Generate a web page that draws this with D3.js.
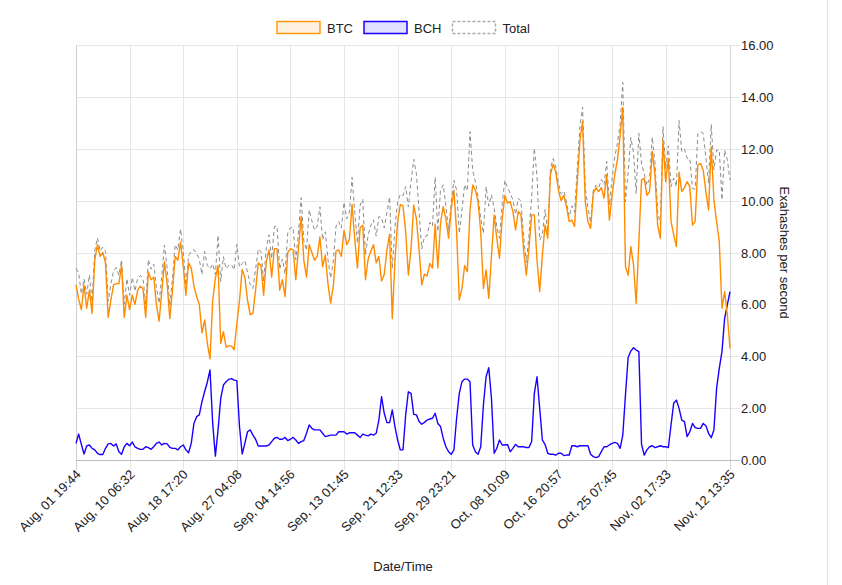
<!DOCTYPE html>
<html><head><meta charset="utf-8">
<script src="https://cdn.jsdelivr.net/npm/d3@7"></script>
<style>body{margin:0;background:#fff}svg{display:block;font-family:"Liberation Sans",Arial,Helvetica,sans-serif}</style>
</head><body><svg id="c" width="842" height="585"></svg>
<script>
const btc = [
6.75,6.2,5.8,6.75,5.85,6.55,5.65,7.7,8.3,7.85,
8.0,7.6,5.5,6.15,6.75,6.8,6.8,7.5,5.5,6.35,
5.8,6.35,6.0,6.55,6.7,6.6,5.5,7.25,6.95,7.05,
6.0,5.35,6.5,7.65,6.8,5.45,6.55,7.85,7.7,8.4,
7.5,6.35,7.6,7.4,6.7,6.3,6.0,4.9,5.4,4.5,
3.9,6.15,7.0,7.5,4.5,4.95,4.35,4.4,4.4,4.25,
5.25,6.15,7.35,7.05,6.15,5.6,5.65,6.55,7.6,7.5,
6.35,7.65,8.1,7.05,8.15,8.15,6.55,6.95,6.3,8.0,
8.15,8.1,6.95,8.15,9.4,7.7,7.05,8.3,8.0,7.7,
7.85,8.6,7.45,7.9,6.8,6.05,6.7,8.05,8.1,7.85,
8.85,8.3,8.5,9.85,8.5,7.4,8.95,9.05,6.95,7.75,
8.05,8.3,7.6,7.85,6.9,7.15,8.1,8.7,5.45,7.7,
9.2,9.85,9.8,8.8,7.13,8.16,9.83,9.3,8.1,6.75,
7.17,7.1,7.58,7.4,9.1,7.4,9.13,9.77,9.3,8.55,
9.7,10.4,8.8,6.17,6.62,7.5,7.26,9.64,10.6,10.4,
9.96,8.8,6.62,7.33,6.23,7.84,9.45,8.55,7.78,9.3,
10.2,9.9,9.96,9.58,8.87,9.58,9.47,8.1,7.13,8.16,
9.45,9.45,7.71,6.49,7.9,9.06,8.55,11.0,11.4,11.1,
10.4,10.0,10.2,9.77,9.19,9.25,9.0,10.7,12.3,13.05,
9.96,9.19,8.93,10.28,10.5,10.35,10.5,10.1,11.0,9.25,
10.2,11.0,11.57,12.5,13.6,7.45,7.13,8.23,7.52,6.04,
8.42,10.8,10.86,10.2,10.35,11.9,11.0,9.06,8.55,12.34,
10.73,11.63,9.19,8.68,8.23,11.1,10.35,10.5,10.73,10.54,
9.06,9.19,11.37,11.44,11.18,10.35,9.64,12.08,10.03,9.19,
8.42,5.85,6.49,5.6,4.3
];
const bch = [
0.64,1.0,0.6,0.23,0.54,0.58,0.45,0.39,0.26,0.21,
0.21,0.45,0.62,0.64,0.54,0.62,0.32,0.22,0.51,0.64,
0.55,0.69,0.51,0.45,0.41,0.41,0.51,0.48,0.41,0.51,
0.64,0.69,0.58,0.64,0.62,0.49,0.45,0.45,0.39,0.51,
0.58,0.39,0.28,0.64,1.41,1.67,1.74,2.25,2.64,3.0,
3.47,1.41,0.15,1.16,2.38,2.89,3.02,3.11,3.14,3.08,
3.06,1.29,0.23,0.64,1.09,1.16,0.96,0.8,0.54,0.54,
0.54,0.54,0.58,0.71,0.84,0.87,0.8,0.8,0.87,0.75,
0.8,0.87,0.77,0.64,0.71,0.75,1.03,1.35,1.22,1.16,
1.16,1.16,1.03,0.9,0.93,0.96,0.96,0.96,1.09,1.09,
1.09,1.0,1.05,1.05,1.05,0.96,0.87,1.0,0.96,0.93,
1.0,0.96,1.03,1.54,2.44,1.8,1.44,1.44,1.93,1.29,
0.77,0.39,0.39,1.74,2.63,2.57,1.76,1.74,1.48,1.38,
1.45,1.54,1.58,1.61,1.8,1.41,1.29,0.84,0.51,0.32,
0.22,0.39,1.61,2.57,3.02,3.12,3.12,3.02,0.58,0.32,
0.22,0.51,2.12,3.21,3.56,2.38,0.26,0.45,0.77,0.58,
0.58,0.6,0.32,0.45,0.6,0.51,0.51,0.51,0.48,0.48,
0.71,2.57,3.21,1.99,0.77,0.6,0.26,0.22,0.22,0.19,
0.26,0.26,0.17,0.19,0.19,0.55,0.55,0.51,0.55,0.55,
0.55,0.55,0.22,0.13,0.09,0.13,0.32,0.51,0.51,0.58,
0.64,0.68,0.64,0.45,0.96,2.51,3.95,4.2,4.33,4.24,
4.18,0.6,0.19,0.39,0.51,0.55,0.48,0.51,0.55,0.51,
0.51,0.48,1.35,2.19,2.31,1.99,1.54,1.48,0.9,1.09,
1.41,1.25,1.22,1.22,1.41,1.32,1.03,0.86,1.16,2.76,
3.53,4.18,5.46,5.98,6.49
];
const xTickLabels = ["Aug, 01 19:44","Aug, 10 06:32","Aug, 18 17:20","Aug, 27 04:08","Sep, 04 14:56","Sep, 13 01:45","Sep, 21 12:33","Sep, 29 23:21","Oct, 08 10:09","Oct, 16 20:57","Oct, 25 07:45","Nov, 02 17:33","Nov, 12 13:35"];
const xTickIndex = [0,20,40,60,80,100,120,140,160,180,200,220,244];
const yTicks = [0,2,4,6,8,10,12,14,16];
const seriesNames = ["BTC","BCH","Total"];
const xTitle = "Date/Time";
const yTitle = "Exahashes per second";

const total = btc.map((v,i)=>+(v+bch[i]).toFixed(2));

const L=76,R=730,T=45,B=460, FS=13, TXT="#222";
const svg = d3.select("#c");
svg.append("rect").attr("width",842).attr("height",585).attr("fill","#fff");
const x = d3.scaleLinear().domain([0,btc.length-1]).range([L,R]);
const y = d3.scaleLinear().domain([0,16]).range([B,T]);

const g = svg.append("g");
yTicks.forEach(t=>{
  const yy = Math.round(y(t))+0.5;
  g.append("line").attr("x1",L).attr("x2",R+10).attr("y1",yy).attr("y2",yy)
   .attr("stroke", t===0 ? "#bfbfbf" : "#e6e6e6").attr("stroke-width",1);
  g.append("text").attr("x",R+11).attr("y",yy).attr("dy","0.35em")
   .attr("font-size",FS).attr("fill",TXT).text(d3.format(".2f")(t));
});
xTickIndex.forEach((idx,k)=>{
  const xx = Math.round(x(idx))+0.5;
  g.append("line").attr("x1",xx).attr("x2",xx).attr("y1",T).attr("y2",B+10)
   .attr("stroke", k===0 ? "#cfcfcf" : "#e6e6e6").attr("stroke-width",1);
  g.append("text").attr("font-size",FS).attr("fill",TXT)
   .attr("text-anchor","end").attr("dy","0.35em")
   .attr("transform",`translate(${xx+2},${B+12}) rotate(-45)`)
   .text(xTickLabels[k]);
});
g.append("line").attr("x1",R+0.5).attr("x2",R+0.5).attr("y1",T).attr("y2",B+10).attr("stroke","#d6d6d6");
g.append("line").attr("x1",L).attr("x2",R+10).attr("y1",Math.round(y(0))+0.5).attr("y2",Math.round(y(0))+0.5).attr("stroke","#bfbfbf");

svg.append("text").attr("x",(L+R)/2).attr("y",571).attr("text-anchor","middle")
  .attr("font-size",FS).attr("fill",TXT).text(xTitle);
svg.append("text").attr("transform",`translate(780,${(T+B)/2}) rotate(90)`)
  .attr("text-anchor","middle").attr("font-size",FS).attr("fill",TXT).text(yTitle);

const line = d3.line().x((d,i)=>x(i)).y(d=>y(d));
svg.append("path").datum(total).attr("d",line).attr("fill","none")
  .attr("stroke","#8c8c8c").attr("stroke-width",1).attr("stroke-dasharray","4,3");
svg.append("path").datum(bch).attr("d",line).attr("fill","none")
  .attr("stroke","#1a00ff").attr("stroke-width",1.4).attr("stroke-linejoin","round");
svg.append("path").datum(btc).attr("d",line).attr("fill","none")
  .attr("stroke","#ff8c00").attr("stroke-width",1.4).attr("stroke-linejoin","round");

const legStyles = [
  {fill:"rgba(255,140,0,0.12)",stroke:"#ff9a10",dash:null},
  {fill:"rgba(26,0,255,0.12)",stroke:"#1a00ff",dash:null},
  {fill:"#fff",stroke:"#aaa",dash:"3,2"}
];
const leg = svg.append("g");
let cx = 0;
seriesNames.forEach((n,i)=>{
  const it = leg.append("g");
  it.append("rect").attr("x",cx).attr("y",21.5).attr("width",43).attr("height",12)
    .attr("fill",legStyles[i].fill).attr("stroke",legStyles[i].stroke)
    .attr("stroke-width",1.5).attr("stroke-dasharray",legStyles[i].dash);
  const t = it.append("text").attr("x",cx+50).attr("y",32.5).attr("font-size",FS)
    .attr("fill",TXT).text(n);
  cx += 50 + t.node().getComputedTextLength() + 11;
});
const legW = cx - 11;
leg.attr("transform",`translate(${Math.round((L+R)/2 - legW/2)},0)`);

svg.append("line").attr("x1",827.5).attr("x2",827.5).attr("y1",0).attr("y2",585).attr("stroke","#e3e3e3");
</script></body></html>
